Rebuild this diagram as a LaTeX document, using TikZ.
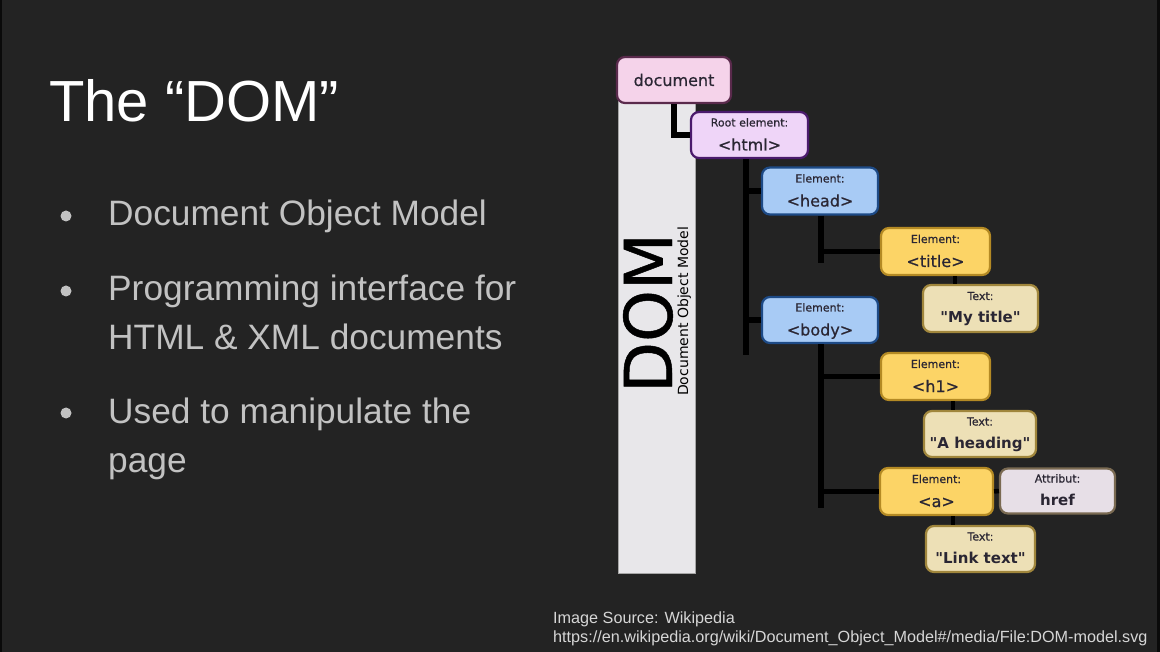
\documentclass[tikz,border=0pt]{standalone}
\usepackage{fontspec}
\setmainfont{Liberation Sans}
\newfontfamily\dvfont[FakeBold=0.7]{DejaVu Sans}
\newfontfamily\dvplain{DejaVu Sans}
\usetikzlibrary{calc}
\definecolor{bgc}{HTML}{232323}
\definecolor{bullc}{HTML}{C2C2C2}
\definecolor{notec}{HTML}{D6D6D6}
\definecolor{barc}{HTML}{E8E7EA}
\definecolor{inkc}{HTML}{2A2633}
\definecolor{docf}{HTML}{F5D3EA}\definecolor{docd}{HTML}{5A2A4C}
\definecolor{htmf}{HTML}{EFD5F8}\definecolor{htmd}{HTML}{4A1A6C}
\definecolor{elbf}{HTML}{A8CBF5}\definecolor{elbd}{HTML}{1D4A86}
\definecolor{elyf}{HTML}{FCD466}\definecolor{elyd}{HTML}{B48A24}
\definecolor{txtf}{HTML}{EDE0B6}\definecolor{txtd}{HTML}{A0863C}
\definecolor{attf}{HTML}{E7DFE7}\definecolor{attd}{HTML}{7A6A52}
\tikzset{
  slidetitle/.style={anchor=base west, inner sep=0pt, text=white, font=\fontsize{58}{68}\selectfont},
  bullettext/.style={anchor=base west, inner sep=0pt, text=bullc, font=\fontsize{35.3}{42}\selectfont},
  bulletdot/.style={circle, fill=bullc, inner sep=0pt, minimum size=11pt},
  notetext/.style={anchor=base west, inner sep=0pt, text=notec, font=\fontsize{16.2}{19}\selectfont},
  box/.style={rounded corners=8pt, line width=2.2pt, inner sep=0pt, text=inkc},
  lbl/.style={anchor=base, inner sep=0pt, text=inkc, font=\dvfont\fontsize{11}{13}\selectfont},
  val/.style={anchor=base, inner sep=0pt, text=inkc, font=\dvfont\fontsize{16}{19}\selectfont},
  valb/.style={anchor=base, inner sep=0pt, text=inkc, font=\dvplain\bfseries\fontsize{15}{18}\selectfont},
  conn/.style={line width=5.5pt, black},
  shortconn/.style={line width=4.5pt, black},
}
\begin{document}
\begin{tikzpicture}[x=1pt,y=-1pt]
\fill[bgc] (0,0) rectangle (1160,652);
\useasboundingbox (0,0) rectangle (1160,652);
\fill[black!70!bgc] (0,0) rectangle (2,652);
\fill[black!70!bgc] (1157,0) rectangle (1160,652);

% left column
\node[slidetitle] (title) at (49,122) {The “DOM”};
\node[bulletdot] (d1) at (66,216) {};
\node[bullettext] (b1) at (108,226) {Document Object Model};
\node[bulletdot] (d2) at (66,291) {};
\node[bullettext] (b2) at (108,301) {Programming interface for};
\node[bullettext] (b3) at (108,350) {HTML \& XML documents};
\node[bulletdot] (d3) at (66,413) {};
\node[bullettext] (b4) at (108,424) {Used to manipulate the};
\node[bullettext] (b5) at (108,472) {page};

% footnote
\node[notetext] (n1) at (553,623) {Image Source: Wikipedia};
\node[notetext] (n2) at (553,642) {https://en.wikipedia.org/wiki/Document\_Object\_Model\#/media/File:DOM-model.svg};

% DOM bar
\node[draw=gray!70, line width=0.8pt, fill=barc, minimum width=77pt, minimum height=483pt, inner sep=0pt] (bar) at (656.5,331.5) {};
\node[anchor=base west, rotate=90, inner sep=0pt, text=black, font=\dvfont\fontsize{66}{70}\selectfont] (domtxt) at (672,393) {DOM};
\node[anchor=base west, rotate=90, inner sep=0pt, text=black, font=\dvplain\fontsize{14}{16}\selectfont] (domsub) at (688,396) {Document Object Model};

% boxes
\node[box, fill=docf, draw=docd, minimum width=114pt, minimum height=46pt, font=\dvfont\fontsize{16}{19}\selectfont] (doc) at (674,80) {document};
\node[box, fill=htmf, draw=htmd, minimum width=117pt, minimum height=46pt] (html) at (749.5,135) {};
\node[box, fill=elbf, draw=elbd, minimum width=116pt, minimum height=47pt] (head) at (820,191) {};
\node[box, fill=elbf, draw=elbd, minimum width=116pt, minimum height=46pt] (body) at (820,320) {};
\node[box, fill=elyf, draw=elyd, minimum width=109pt, minimum height=47pt] (ttl) at (935.5,251.5) {};
\node[box, fill=txtf, draw=txtd, minimum width=115pt, minimum height=47pt] (mytitle) at (980.5,308.5) {};
\node[box, fill=elyf, draw=elyd, minimum width=109pt, minimum height=47pt] (hone) at (935.5,376.5) {};
\node[box, fill=txtf, draw=txtd, minimum width=112pt, minimum height=46pt] (heading) at (980,434) {};
\node[box, fill=elyf, draw=elyd, minimum width=113pt, minimum height=47pt] (aa) at (936.5,491.5) {};
\node[box, fill=attf, draw=attd, minimum width=115pt, minimum height=45pt] (attr) at (1057.5,491) {};
\node[box, fill=txtf, draw=txtd, minimum width=109pt, minimum height=46pt] (link) at (980.5,549) {};

\coordinate (t1) at (746,355);
\coordinate (t2) at (821,263);
\coordinate (t3) at (821,508);
\coordinate (c1) at (955,0);
\coordinate (c2) at (953,0);

% texts in boxes
\node[lbl] at ([yshift=8.5pt]html.center) {Root element:};
\node[val] at ([yshift=-15.5pt]html.center) {<html>};
\node[lbl] at ([yshift=8.5pt]head.center) {Element:};
\node[val] at ([yshift=-15.5pt]head.center) {<head>};
\node[lbl] at ([yshift=8.5pt]body.center) {Element:};
\node[val] at ([yshift=-15.5pt]body.center) {<body>};
\node[lbl] at ([yshift=8.5pt]ttl.center) {Element:};
\node[val] at ([yshift=-15.5pt]ttl.center) {<title>};
\node[lbl] at ([yshift=8.5pt]mytitle.center) {Text:};
\node[valb] at ([yshift=-14.5pt]mytitle.center) {"My title"};
\node[lbl] at ([yshift=8.5pt]hone.center) {Element:};
\node[val] at ([yshift=-15.5pt]hone.center) {<h1>};
\node[lbl] at ([yshift=8.5pt]heading.center) {Text:};
\node[valb] at ([yshift=-14.5pt]heading.center) {"A heading"};
\node[lbl] at ([yshift=8.5pt]aa.center) {Element:};
\node[val] at ([yshift=-15.5pt]aa.center) {<a>};
\node[lbl] at ([yshift=8.5pt]attr.center) {Attribut:};
\node[valb] at ([yshift=-14.5pt]attr.center) {href};
\node[lbl] at ([yshift=8.5pt]link.center) {Text:};
\node[valb] at ([yshift=-14.5pt]link.center) {"Link text"};

% connectors
\draw[conn] (doc.south) |- (html.west);
\draw[conn] (html.south -| t1) -- (t1);
\draw[conn] (head.west -| t1) -- (head.west);
\draw[conn] (body.west -| t1) -- (body.west);
\draw[conn] (head.south -| t2) -- (t2);
\draw[conn] (ttl.west -| t2) -- (ttl.west);
\draw[conn] (body.south -| t3) -- (t3);
\draw[conn] (hone.west -| t3) -- (hone.west);
\draw[conn] (aa.west -| t3) -- (aa.west);
\draw[shortconn] (ttl.south -| c1) -- (mytitle.north -| c1);
\draw[shortconn] (hone.south -| c2) -- (heading.north -| c2);
\draw[shortconn] (aa.south -| c2) -- (link.north -| c2);
\draw[shortconn] (aa.east) -- (attr.west);
\end{tikzpicture}
\end{document}
